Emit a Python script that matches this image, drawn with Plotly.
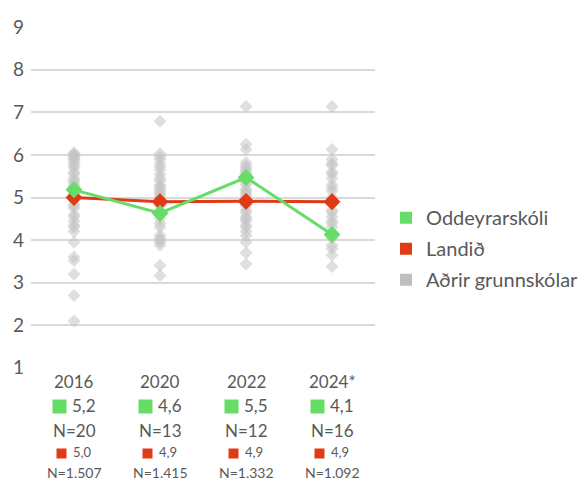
import plotly.graph_objects as go

years = ["2016", "2020", "2022", "2024*"]
school_name = "Oddeyrarskóli"
nation_name = "Landið"
others_name = "Aðrir grunnskólar"

school_values = [5.18, 4.63, 5.47, 4.13]
nation_values = [5.0, 4.9, 4.91, 4.9]
school_labels = ["5,2", "4,6", "5,5", "4,1"]
nation_labels = ["5,0", "4,9", "4,9", "4,9"]
school_n = ["N=20", "N=13", "N=12", "N=16"]
nation_n = ["N=1.507", "N=1.415", "N=1.332", "N=1.092"]

others_2016 = [6.05, 6.02, 6.0, 5.97, 5.93, 5.9, 5.85, 5.8, 5.75, 5.7, 5.6, 5.55, 5.45,
               5.4, 5.35, 5.3, 5.25, 5.1, 5.05, 4.95, 4.85, 4.8, 4.75, 4.6, 4.55, 4.45,
               4.35, 4.3, 4.2, 3.95, 3.6, 3.52, 3.2, 2.7, 2.1]
others_2020 = [6.79, 6.03, 5.95, 5.9, 5.8, 5.73, 5.66, 5.55, 5.46, 5.4, 5.3, 5.25, 5.2,
               5.15, 5.1, 5.05, 5.0, 4.95, 4.8, 4.5, 4.39, 4.3, 4.12, 4.05, 4.0, 3.95,
               3.88, 3.4, 3.17]
others_2022 = [7.14, 6.25, 6.13, 5.82, 5.75, 5.7, 5.65, 5.6, 5.55, 5.5, 5.4, 5.35, 5.3,
               5.2, 5.15, 5.1, 5.05, 5.0, 4.95, 4.85, 4.8, 4.7, 4.65, 4.55, 4.5, 4.45,
               4.35, 4.3, 4.2, 4.1, 3.95, 3.7, 3.44]
others_2024 = [7.14, 6.13, 5.9, 5.8, 5.75, 5.6, 5.55, 5.45, 5.3, 5.23, 5.15, 5.0, 4.95,
               4.85, 4.7, 4.65, 4.54, 4.45, 4.39, 4.3, 4.15, 4.05, 3.88, 3.8, 3.65, 3.38]
others = [others_2016, others_2020, others_2022, others_2024]

GREEN = "#66dd66"
RED = "#e03a16"
GRAY = "#c4c4c4"
TEXT = "#595959"
FONT = "Lato, 'Open Sans', sans-serif"

fig = go.Figure()

ox, oy = [], []
for yr, vals in zip(years, others):
    ox += [yr] * len(vals)
    oy += vals
fig.add_trace(go.Scatter(x=ox, y=oy, mode="markers", showlegend=False,
                         marker=dict(symbol="diamond", size=10, color=GRAY, opacity=0.55,
                                     line=dict(width=0)),
                         hoverinfo="skip"))
fig.add_trace(go.Scatter(x=years, y=nation_values, mode="lines+markers", showlegend=False,
                         line=dict(color=RED, width=3),
                         marker=dict(symbol="diamond", size=13, color=RED)))
fig.add_trace(go.Scatter(x=years, y=school_values, mode="lines+markers", showlegend=False,
                         line=dict(color=GREEN, width=3),
                         marker=dict(symbol="diamond", size=13, color=GREEN)))

# legend entries
for name, col, grp in [(school_name, GREEN, "a"), (nation_name, RED, "b"), (others_name, "#bfbfbf", "c")]:
    fig.add_trace(go.Scatter(x=[None], y=[None], mode="markers", name=name, legendgroup=grp,
                             marker=dict(symbol="square", size=14, color=col)))

AXIS_BOTTOM = 368


def add_row(i, text, ypix, size, xanchor="center", xshift=0):
    fig.add_annotation(x=i, y=0, xref="x", yref="paper", yanchor="middle",
                       xanchor=xanchor, xshift=xshift,
                       yshift=-(ypix - AXIS_BOTTOM), text=text, showarrow=False,
                       font=dict(size=size, color=TEXT, family=FONT))


def add_square(i, ypix, side, color, xshift):
    fig.add_annotation(x=i, y=0, xref="x", yref="paper", yanchor="middle",
                       xanchor="center", xshift=xshift,
                       yshift=-(ypix - AXIS_BOTTOM), text=" ", showarrow=False,
                       width=side, height=side, bgcolor=color, borderpad=0,
                       font=dict(size=4))


for i, yr in enumerate(years):
    add_row(i, yr, 381, 17)
    add_square(i, 406, 13, GREEN, -15)
    add_row(i, school_labels[i], 405, 17, xanchor="left", xshift=-4)
    add_row(i, school_n[i], 430, 17)
    add_square(i, 453, 9, RED, -13)
    add_row(i, nation_labels[i], 452, 13, xanchor="left", xshift=-3)
    add_row(i, nation_n[i], 472, 14)

fig.update_layout(
    width=582, height=480,
    margin=dict(l=31, r=207, t=27, b=112, autoexpand=False),
    plot_bgcolor="white", paper_bgcolor="white",
    font=dict(family=FONT, color=TEXT),
    xaxis=dict(showticklabels=False, showgrid=False, zeroline=False, showline=False,
               range=[-0.5, 3.5], type="category", fixedrange=True, automargin=False),
    yaxis=dict(range=[0.995, 9.005], tickvals=list(range(1, 10)), showgrid=True,
               gridcolor="#d9d9d9", gridwidth=2, zeroline=False, showline=False,
               tickfont=dict(size=19, color=TEXT), ticks="", ticklabelstandoff=6,
               automargin=False),
    legend=dict(x=1.032, y=0.35, xanchor="left", yanchor="middle",
                font=dict(size=20, color=TEXT), tracegroupgap=2,
                itemsizing="constant"),
    showlegend=True,
)

fig.write_html("out.html", config={"displayModeBar": False},
               post_script="document.body.style.margin='0';")
